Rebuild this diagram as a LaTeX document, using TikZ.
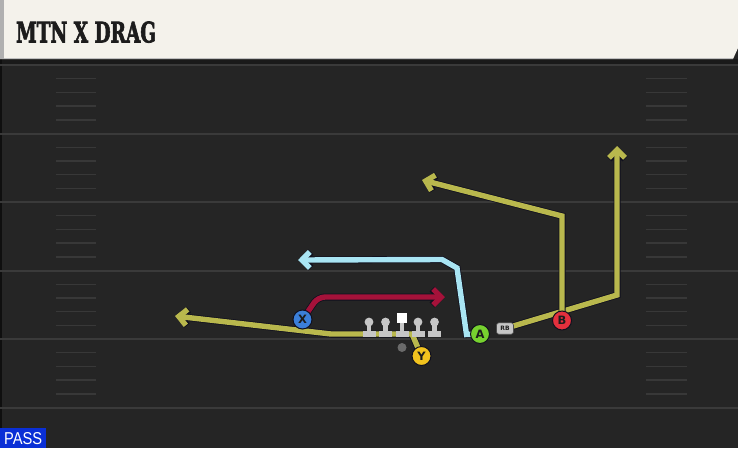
\documentclass[tikz,border=0pt]{standalone}
\usepackage{fontspec}
\usepackage{graphicx}
\usetikzlibrary{arrows.meta}
\newfontfamily\titlefont{DejaVu Serif Condensed}[FakeBold=2.5]
\newfontfamily\plfont{DejaVu Sans}
\newfontfamily\passfont{Liberation Sans}
\definecolor{fieldbg}{HTML}{252525}
\definecolor{topband}{HTML}{1A1A1A}
\definecolor{yardcol}{HTML}{3A3A3A}
\definecolor{hashcol}{HTML}{383838}
\definecolor{titlebg}{HTML}{F4F2EB}
\definecolor{titleedge}{HTML}{B0B0B0}
\definecolor{titletext}{HTML}{1C1C1C}
\definecolor{passblue}{HTML}{0A2FD6}
\definecolor{ryellow}{HTML}{B9B84D}
\definecolor{rred}{HTML}{A5123A}
\definecolor{rblue}{HTML}{A9E5F3}
\definecolor{outl}{HTML}{10101E}
\definecolor{xblue}{HTML}{3B7FD9}
\definecolor{agreen}{HTML}{77D12F}
\definecolor{bred}{HTML}{E3303D}
\definecolor{yyellow}{HTML}{F2C31E}
\definecolor{linegrey}{HTML}{C6C6C6}
\definecolor{qbgrey}{HTML}{6A6A6A}
\pgfdeclarelayer{bg}
\pgfdeclarelayer{routes}
\pgfsetlayers{bg,routes,main}
\begin{document}
\begin{tikzpicture}[x=1pt,y=-1pt,
  yardline/.style={draw=yardcol,line width=2pt},
  hashline/.style={draw=hashcol,line width=1.4pt},
  route/.style={line width=5.4pt,line join=miter,
    -{Straight Barb[length=8pt,width=16pt]},
    preaction={draw=outl,line width=7pt}},
  player/.style={circle,minimum size=19pt,inner sep=0pt,draw=outl,line width=1pt,
    font=\plfont\bfseries\fontsize{11.5}{11.5}\selectfont,text=titletext},
  rbbox/.style={rounded corners=2.5pt,minimum width=17pt,minimum height=11.5pt,inner sep=0pt,
    fill=linegrey,draw=black!70,line width=0.6pt,
    font=\plfont\bfseries\fontsize{6}{6}\selectfont,text=titletext},
  qbdot/.style={circle,minimum size=9pt,inner sep=0pt,fill=qbgrey},
  lman/.style={fill=linegrey}
]
\useasboundingbox (0,0) rectangle (738,448);
\begin{pgfonlayer}{bg}
  \fill[fieldbg] (0,0) rectangle (738,448);
  \fill[topband] (0,59) rectangle (738,64);
  \draw[draw=black!60!fieldbg,line width=1.5pt] (1,59) -- (1,448);
  \foreach \y in {65,133.5,202,270.5,339,407.5}
    \draw[yardline] (0,\y) -- (738,\y);
  \foreach \k in {1,2,3,4,6,7,8,9,11,12,13,14,16,17,18,19,21,22,23,24}{
    \draw[hashline] (56,65+13.7*\k) -- (96,65+13.7*\k);
    \draw[hashline] (646,65+13.7*\k) -- (687,65+13.7*\k);
  }
\end{pgfonlayer}

% title bar
\fill[titlebg] (0,0) -- (738,0) -- (738,48) -- (733,59) -- (0,59) -- cycle;
\fill[titleedge] (0,0) rectangle (3.5,59);
\draw[draw=black!25,line width=1pt] (3.5,58.5) -- (733,58.5);
\node[anchor=south west,inner sep=0pt,text=titletext] (title) at (16,43)
  {\resizebox{140pt}{21pt}{\titlefont\bfseries MTN X DRAG}};

% PASS label
\fill[passblue] (0,428) rectangle (46,448);
\node[anchor=south west,inner sep=0pt,text=white] (pass) at (4,445)
  {\resizebox{38pt}{12pt}{\passfont PASS}};

% linemen
\foreach \x in {369,385.5,418,434.5}{
  \fill[lman] (\x,322) circle (4.4pt);
  \fill[lman] (\x-2.2,322) rectangle (\x+2.2,331);
  \fill[lman] (\x-6.5,330.5) rectangle (\x+6.5,337);
}
\fill[white] (397,313) rectangle (407,323);
\fill[lman] (399.8,323) rectangle (404.2,331);
\fill[lman] (395.5,330.5) rectangle (408.5,337);

% players
\node[player,fill=xblue] (X) at (302.5,319.5) {X};
\node[player,fill=agreen] (A) at (480,334) {A};
\node[player,fill=bred] (B) at (562,320.5) {B};
\node[player,fill=yyellow] (Y) at (421.5,356) {Y};
\node[rbbox] (RB) at (505,328.5) {RB};
\node[qbdot] (QB) at (402,347.5) {};

% route ends
\coordinate (yend) at (175,316);
\coordinate (rbend) at (617,146);
\coordinate (bend) at (422,180);
\coordinate (aend) at (298,260);
\coordinate (xend) at (445,297);

\begin{pgfonlayer}{routes}
  \draw[route,draw=ryellow] (Y.center) -- (412,334) -- (331,334) -- (yend);
  \draw[route,draw=ryellow] (RB.center) -- (617,295) -- (rbend);
  \draw[route,draw=ryellow] (B.center) -- (562,216) -- (bend);
  \draw[route,draw=rblue] (A.center) -- (466.5,334.5) -- (457,268) -- (442,259.5) -- (aend);
  \draw[route,draw=rred,rounded corners=7pt] (X.center) -- (318,297) -- (xend);
\end{pgfonlayer}
\end{tikzpicture}
\end{document}
